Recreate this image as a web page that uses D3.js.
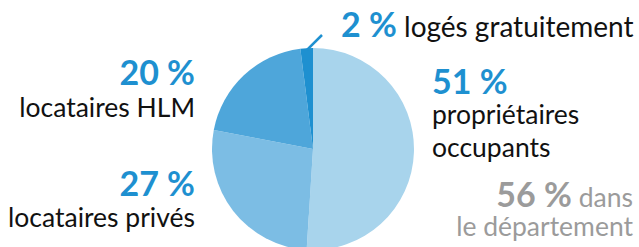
<!DOCTYPE html>
<html>
<head>
<meta charset="utf-8">
<script src="https://cdn.jsdelivr.net/npm/d3@7"></script>
<style>
  body { margin: 0; background: #fff; }
  text { font-family: Lato, "Open Sans", sans-serif; }
</style>
</head>
<body>
<div id="chart"></div>
<script>
var width = 639;
var height = 247;

// data
var categories = ["propriétaires occupants", "locataires privés", "locataires HLM", "logés gratuitement"];
var values = [51, 27, 20, 2];
var colors = ["#a8d4ec", "#7cbde4", "#4ea6da", "#1e90d0"];
var deptValue = 56;

const BLUE = "#1e90d0";
const GREY = "#9b9b9b";
const BIG = 34, SMALL = 26.5;

var svg = d3.select("#chart")
  .append("svg")
  .attr("width", width)
  .attr("height", height);

var cx = 313, cy = 149, radius = 101;

var pie = d3.pie().sort(null).value(function(d) { return d; });
var arc = d3.arc().innerRadius(0).outerRadius(radius);

var arcs = pie(values);

var g = svg.append("g").attr("transform", "translate(" + cx + "," + cy + ")");
g.selectAll("path")
  .data(arcs)
  .enter()
  .append("path")
  .attr("d", arc)
  .attr("fill", function(d, i) { return colors[i]; });

// leader line for the small slice
var small = arcs[3];
var mid = (small.startAngle + small.endAngle) / 2;
var p0 = [Math.sin(mid) * (radius - 2), -Math.cos(mid) * (radius - 2)];
g.append("line")
  .attr("x1", p0[0]).attr("y1", p0[1])
  .attr("x2", 322 - cx).attr("y2", 35 - cy)
  .attr("stroke", BLUE)
  .attr("stroke-width", 2.5);

// labels
function pct(v) { return v + " %"; }

var t2 = svg.append("text").attr("x", 341).attr("y", 37);
t2.append("tspan").attr("font-weight", 700).attr("font-size", BIG).attr("fill", BLUE).text(pct(values[3]));
t2.append("tspan").attr("font-size", 28).attr("fill", "#111").text(" " + categories[3]);

// 20 %
svg.append("text").attr("x", 195).attr("y", 85).attr("text-anchor", "end")
  .attr("font-weight", 700).attr("font-size", BIG).attr("fill", BLUE).text(pct(values[2]));
svg.append("text").attr("x", 195).attr("y", 117).attr("text-anchor", "end")
  .attr("font-size", SMALL).attr("fill", "#111").text(categories[2]);

// 27 %
svg.append("text").attr("x", 195).attr("y", 196).attr("text-anchor", "end")
  .attr("font-weight", 700).attr("font-size", BIG).attr("fill", BLUE).text(pct(values[1]));
svg.append("text").attr("x", 195).attr("y", 227).attr("text-anchor", "end")
  .attr("font-size", SMALL).attr("fill", "#111").text(categories[1]);

// 51 %
svg.append("text").attr("x", 432).attr("y", 94)
  .attr("font-weight", 700).attr("font-size", BIG).attr("fill", BLUE).text(pct(values[0]));
svg.append("text").attr("x", 432).attr("y", 124)
  .attr("font-size", SMALL).attr("fill", "#111").text("propriétaires");
svg.append("text").attr("x", 432).attr("y", 157)
  .attr("font-size", SMALL).attr("fill", "#111").text("occupants");

// department comparison
var td = svg.append("text").attr("x", 633).attr("y", 207).attr("text-anchor", "end").attr("fill", GREY);
td.append("tspan").attr("font-weight", 700).attr("font-size", BIG).text(pct(deptValue));
td.append("tspan").attr("font-size", SMALL).text(" dans");
svg.append("text").attr("x", 633).attr("y", 236).attr("text-anchor", "end")
  .attr("font-size", SMALL).attr("fill", GREY).text("le département");
</script>
</body>
</html>
